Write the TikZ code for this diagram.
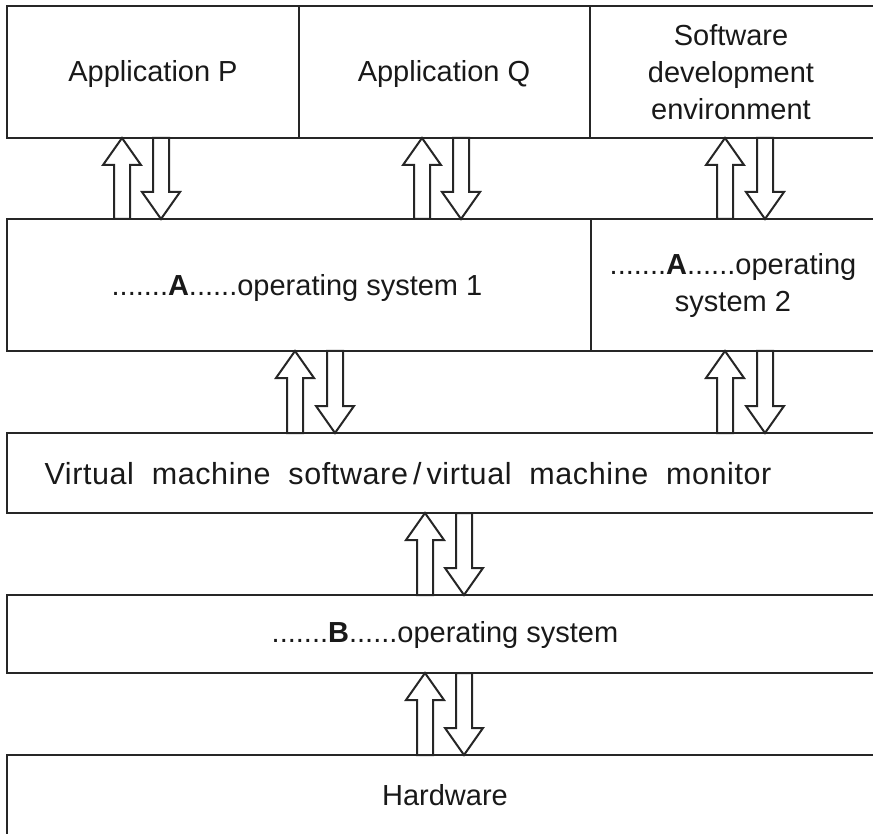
\documentclass[tikz,border=0pt]{standalone}
\usepackage{fontspec}
\setmainfont{Liberation Sans}
\newcommand\myup[3]{% center, top y, bottom y
  \draw[arr] ({#1-8},{#3}) -- ({#1-8},{#2+27}) -- ({#1-19},{#2+27}) -- (#1,#2) -- ({#1+19},{#2+27}) -- ({#1+8},{#2+27}) -- ({#1+8},{#3}) -- cycle;}
\newcommand\mydown[3]{%
  \draw[arr] ({#1-8},{#2}) -- ({#1-8},{#3-27}) -- ({#1-19},{#3-27}) -- (#1,#3) -- ({#1+19},{#3-27}) -- ({#1+8},{#3-27}) -- ({#1+8},{#2}) -- cycle;}
\begin{document}
\begin{tikzpicture}[x=1pt,y=-1pt,
  box/.style={draw=black!85, line width=2.6pt},
  arr/.style={draw=black!85, line width=2pt, fill=white, line join=miter},
  lbl/.style={font=\fontsize{29}{37}\selectfont, text=black!90, align=center, inner sep=0pt}]
\useasboundingbox (0,0) rectangle (873,834);
\clip (0,0) rectangle (873,834);
% boxes
\draw[box] (7,6) rectangle (900,138);
\draw[box] (299,6) -- (299,138);
\draw[box] (590,6) -- (590,138);
\draw[box] (7,219) rectangle (900,351);
\draw[box] (591,219) -- (591,351);
\draw[box] (7,433) rectangle (900,513);
\draw[box] (7,595) rectangle (900,673);
\draw[box] (7,755) rectangle (900,900);
% labels
\node[lbl] (ap) at (153,74) {Application P};
\node[lbl] (aq) at (444,74) {Application Q};
\node[lbl] (sde) at (731,72) {Software\\development\\environment};
\node[lbl] (os1) at (297,288) {.......\textbf{A}......operating system 1};
\node[lbl] (os2) at (733,286) {.......\textbf{A}......operating\\system 2};
\node[lbl, font=\fontsize{30.5}{37}\selectfont] (vmm) at (408,474) {\addfontfeature{LetterSpace=2}\hbox to 727pt{\spaceskip=0.28em plus 1fil Virtual machine software\,/\,virtual machine monitor}};
\node[lbl] (osb) at (445,635) {.......\textbf{B}......operating system};
\node[lbl] (hw) at (445,795) {Hardware};
% arrows
\myup{122}{138}{219}\mydown{161}{138}{219}
\myup{422}{138}{219}\mydown{461}{138}{219}
\myup{725}{138}{219}\mydown{765}{138}{219}
\myup{295}{351}{433}\mydown{335}{351}{433}
\myup{725}{351}{433}\mydown{765}{351}{433}
\myup{425}{513}{595}\mydown{464}{513}{595}
\myup{425}{673}{755}\mydown{464}{673}{755}
\end{tikzpicture}
\end{document}
